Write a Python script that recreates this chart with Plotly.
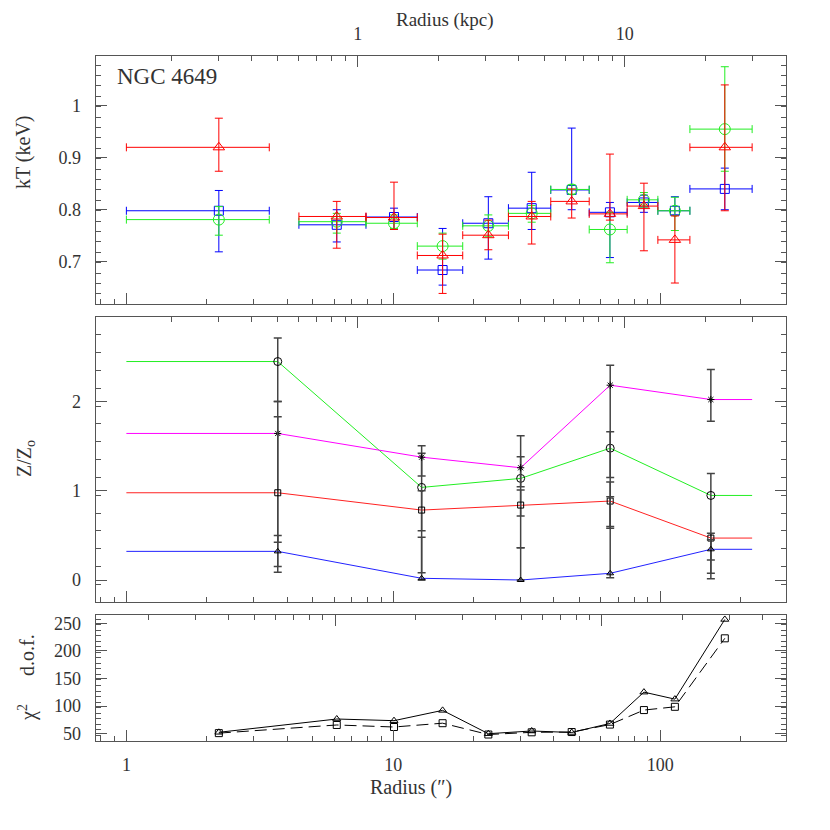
import numpy as np
import plotly.graph_objects as go

# --- top panel: temperature profile (bins shared by the three fits)
r_lo = [1.0, 4.43, 7.9, 12.3, 18.2, 27.0, 38.9, 54.2, 75.2, 98.0, 129.2]
r_hi = [3.43, 7.9, 12.3, 18.2, 27.0, 38.9, 54.2, 75.2, 98.0, 129.2, 221.0]
r_mid = [2.22, 6.14, 10.06, 15.3, 22.7, 33.0, 46.6, 64.8, 86.9, 113.5, 174.6]

kt_red = [0.920, 0.787, 0.785, 0.712, 0.751, 0.787, 0.816, 0.792, 0.807, 0.742, 0.920]
kt_red_hi = [0.976, 0.816, 0.853, 0.753, 0.780, 0.816, 0.840, 0.907, 0.851, 0.788, 1.040]
kt_red_lo = [0.874, 0.726, 0.762, 0.639, 0.723, 0.734, 0.784, 0.780, 0.721, 0.659, 0.798]

kt_green = [0.781, 0.777, 0.774, 0.730, 0.769, 0.793, 0.839, 0.762, 0.819, 0.798, 0.955]
kt_green_hi = [0.806, 0.793, 0.790, 0.755, 0.790, 0.808, 0.848, 0.795, 0.833, 0.824, 1.075]
kt_green_lo = [0.751, 0.755, 0.764, 0.705, 0.748, 0.776, 0.830, 0.698, 0.805, 0.760, 0.874]

kt_blue = [0.798, 0.771, 0.786, 0.684, 0.774, 0.803, 0.838, 0.795, 0.814, 0.798, 0.840]
kt_blue_hi = [0.837, 0.800, 0.803, 0.764, 0.825, 0.872, 0.957, 0.814, 0.828, 0.825, 0.880]
kt_blue_lo = [0.719, 0.738, 0.762, 0.655, 0.705, 0.762, 0.800, 0.708, 0.795, 0.790, 0.800]

# --- middle panel: abundances
z_r = [3.69, 12.77, 30.0, 64.96, 154.8]
z_edges = [1.0, 221.0]

z_green = [2.449, 1.038, 1.139, 1.478, 0.948]
z_green_hi = [2.713, 1.504, 1.616, 1.661, 1.195]
z_green_lo = [2.000, 0.552, 0.717, 0.579, 0.224]

z_magenta = [1.643, 1.377, 1.258, 2.184, 2.023]
z_magenta_hi = [1.829, 1.420, 1.381, 2.408, 2.359]
z_magenta_lo = [0.422, 1.165, 1.045, 1.150, 1.780]

z_red = [0.978, 0.784, 0.840, 0.885, 0.470]
z_red_hi = [2.000, 1.000, 1.008, 1.100, 0.523]
z_red_lo = [0.086, 0.082, 0.362, 0.600, 0.075]

z_blue = [0.321, 0.019, 0.000, 0.075, 0.344]
z_blue_hi = [0.500, 0.478, 0.362, 0.933, 0.450]
z_blue_lo = [0.150, 0.000, 0.000, 0.026, 0.015]

# --- bottom panel: fit statistic
chi_tri = [52.5, 76.6, 73.6, 92.3, 50.0, 54.9, 52.2, 68.5, 125.3, 112.6, 257.0]
chi_sq = [51.0, 65.8, 62.1, 69.0, 48.5, 52.5, 53.0, 66.5, 92.8, 98.7, 222.8]

ARCSEC_PER_KPC = 7.36
ARCSEC_PER_UNIT_TOP3 = 0.605

# the page body adds an 8px margin, so the figure is a bit smaller and
# every position below is given in window pixels minus that offset
OFF = 8
W = H = 830 - OFF
FONT = "Liberation Serif"
INK = "#333333"
FRAME = "#555555"
TICK_SIZE = 18

X_RANGE = [-0.115, 2.4713]
XDOM = [(95.7 - OFF) / W, (786 - OFF) / W]


def ydom(top_px, bottom_px):
    return [1 - (bottom_px - OFF) / H, 1 - (top_px - OFF) / H]


def log_ticks(lo, hi, mults):
    vals = []
    for dec in range(-2, 4):
        for m in mults:
            v = m * 10.0 ** dec
            if lo <= v <= hi:
                vals.append(v)
    return vals


def xaxis(anchor, shift=0.0, labels=False, side="bottom", overlay=None):
    rng = [X_RANGE[0] - shift, X_RANGE[1] - shift]
    lo, hi = 10 ** rng[0], 10 ** rng[1]
    major = log_ticks(lo, hi, [1])
    ax = dict(
        type="log", range=rng, automargin=False,
        domain=XDOM, anchor=anchor, side=side,
        showgrid=False, zeroline=False, showline=True,
        linecolor=FRAME, linewidth=1,
        ticks="inside", ticklen=11, tickwidth=1, tickcolor=FRAME,
        tickmode="array", tickvals=major, ticktext=["%g" % v for v in major],
        showticklabels=labels, ticklabelstandoff=8,
        tickfont=dict(family=FONT, size=TICK_SIZE, color=INK),
        minor=dict(ticks="inside", ticklen=5, tickwidth=1, tickcolor=FRAME,
                   tickmode="array", tickvals=log_ticks(lo, hi, range(2, 10)),
                   showgrid=False),
    )
    if overlay:
        ax["overlaying"] = overlay
    return ax


def yaxis(dom, rng, major, labels, minor_step, anchor):
    return dict(
        domain=dom, range=rng, anchor=anchor, automargin=False,
        showgrid=False, zeroline=False, showline=True, mirror="ticks",
        linecolor=FRAME, linewidth=1,
        ticks="inside", ticklen=11, tickwidth=1, tickcolor=FRAME,
        tickmode="array", tickvals=major, ticktext=labels,
        ticklabelstandoff=10,
        tickfont=dict(family=FONT, size=TICK_SIZE, color=INK),
        minor=dict(ticks="inside", ticklen=5, tickwidth=1, tickcolor=FRAME,
                   tickmode="array",
                   tickvals=list(np.arange(rng[0], rng[1], minor_step)),
                   showgrid=False),
    )


fig = go.Figure()


def kt_series(y, hi, lo, color, symbol, size):
    fig.add_trace(go.Scatter(
        x=r_mid, y=y, mode="markers", xaxis="x", yaxis="y",
        marker=dict(symbol=symbol, size=size, color=color,
                    line=dict(color=color, width=1)),
        error_x=dict(type="data", symmetric=False,
                     array=[h - m for h, m in zip(r_hi, r_mid)],
                     arrayminus=[m - l for l, m in zip(r_lo, r_mid)],
                     color=color, thickness=1, width=4),
        error_y=dict(type="data", symmetric=False,
                     array=[h - v for h, v in zip(hi, y)],
                     arrayminus=[v - l for l, v in zip(lo, y)],
                     color=color, thickness=1, width=4),
        showlegend=False, hoverinfo="skip",
    ))


kt_series(kt_blue, kt_blue_hi, kt_blue_lo, "#0000ff", "square-open", 9)
kt_series(kt_green, kt_green_hi, kt_green_lo, "#22ee22", "circle-open", 11)
kt_series(kt_red, kt_red_hi, kt_red_lo, "#ff0000", "triangle-up-open", 10)


def z_series(y, hi, lo, color, symbol, size):
    fig.add_trace(go.Scatter(
        x=[z_edges[0]] + z_r + [z_edges[1]], y=[y[0]] + y + [y[-1]],
        mode="lines", xaxis="x2", yaxis="y2",
        line=dict(color=color, width=1),
        showlegend=False, hoverinfo="skip",
    ))
    fig.add_trace(go.Scatter(
        x=z_r, y=y, mode="markers", xaxis="x2", yaxis="y2",
        marker=dict(symbol=symbol, size=size, color="black",
                    line=dict(color="black", width=1)),
        error_y=dict(type="data", symmetric=False,
                     array=[h - v for h, v in zip(hi, y)],
                     arrayminus=[v - l for l, v in zip(lo, y)],
                     color="#444444", thickness=1.5, width=4),
        showlegend=False, hoverinfo="skip",
    ))


z_series(z_green, z_green_hi, z_green_lo, "#22ee22", "circle-open", 8)
z_series(z_magenta, z_magenta_hi, z_magenta_lo, "#ff00ff", "asterisk-open", 6)
z_series(z_red, z_red_hi, z_red_lo, "#ff2222", "square-open", 6)
z_series(z_blue, z_blue_hi, z_blue_lo, "#2222ff", "triangle-up-open", 6)

fig.add_trace(go.Scatter(
    x=r_mid, y=chi_tri, mode="lines+markers", xaxis="x3", yaxis="y3",
    line=dict(color="black", width=1),
    marker=dict(symbol="triangle-up-open", size=7, color="black",
                line=dict(color="black", width=1)),
    showlegend=False, hoverinfo="skip",
))
fig.add_trace(go.Scatter(
    x=r_mid, y=chi_sq, mode="lines+markers", xaxis="x3", yaxis="y3",
    line=dict(color="black", width=1, dash="12px,6px"),
    marker=dict(symbol="square-open", size=7, color="black",
                line=dict(color="black", width=1)),
    showlegend=False, hoverinfo="skip",
))

# empty traces so that the top (secondary) axes are drawn
for xa, ya in (("x4", "y"), ("x5", "y2"), ("x6", "y3")):
    fig.add_trace(go.Scatter(x=[], y=[], xaxis=xa, yaxis=ya,
                             showlegend=False, hoverinfo="skip"))

fig.update_layout(
    width=W, height=H,
    margin=dict(l=0, r=0, t=0, b=0, autoexpand=False),
    paper_bgcolor="white", plot_bgcolor="white",
    showlegend=False,
    font=dict(family=FONT, size=TICK_SIZE, color=INK),
    xaxis=xaxis("y"),
    xaxis2=xaxis("y2"),
    xaxis3=xaxis("y3", labels=True),
    xaxis4=xaxis("y", shift=np.log10(ARCSEC_PER_KPC), labels=True,
                 side="top", overlay="x"),
    xaxis5=xaxis("y2", shift=np.log10(ARCSEC_PER_KPC), side="top",
                 overlay="x2"),
    xaxis6=xaxis("y3", shift=np.log10(ARCSEC_PER_UNIT_TOP3), side="top",
                 overlay="x3"),
    yaxis=yaxis(ydom(55.7, 304.3), [0.6181, 1.0962], [0.7, 0.8, 0.9, 1.0],
                ["0.7", "0.8", "0.9", "1"], 0.02, "x"),
    yaxis2=yaxis(ydom(317.3, 602.3), [-0.25, 2.945], [0, 1, 2],
                 ["0", "1", "2"], 0.2, "x2"),
    yaxis3=yaxis(ydom(614.7, 740.7), [37.3, 265.6], [50, 100, 150, 200, 250],
                 ["50", "100", "150", "200", "250"], 10, "x3"),
)


def note(text, px, py, size=20, angle=0, xanchor="center", yanchor="middle"):
    fig.add_annotation(
        text=text, x=(px - OFF) / W, y=1 - (py - OFF) / H,
        xref="paper", yref="paper", borderpad=0,
        xanchor=xanchor, yanchor=yanchor, showarrow=False, textangle=angle,
        font=dict(family=FONT, size=size, color=INK),
    )


# the title sits right at the top of the figure
note("Radius (kpc)", 445, OFF, size=19, yanchor="top")
note("Radius (″)", 411, 787)
note("kT (keV)", 23, 152, angle=-90)
note("Z/Z<sub>o</sub>", 25, 459, angle=-90)
note("χ<sup>2</sup>", 27, 713, angle=-90)
note("d.o.f.", 27, 655, angle=-90)
note("NGC 4649", 116, 76, size=23, xanchor="left")

fig.write_html("out.html")
